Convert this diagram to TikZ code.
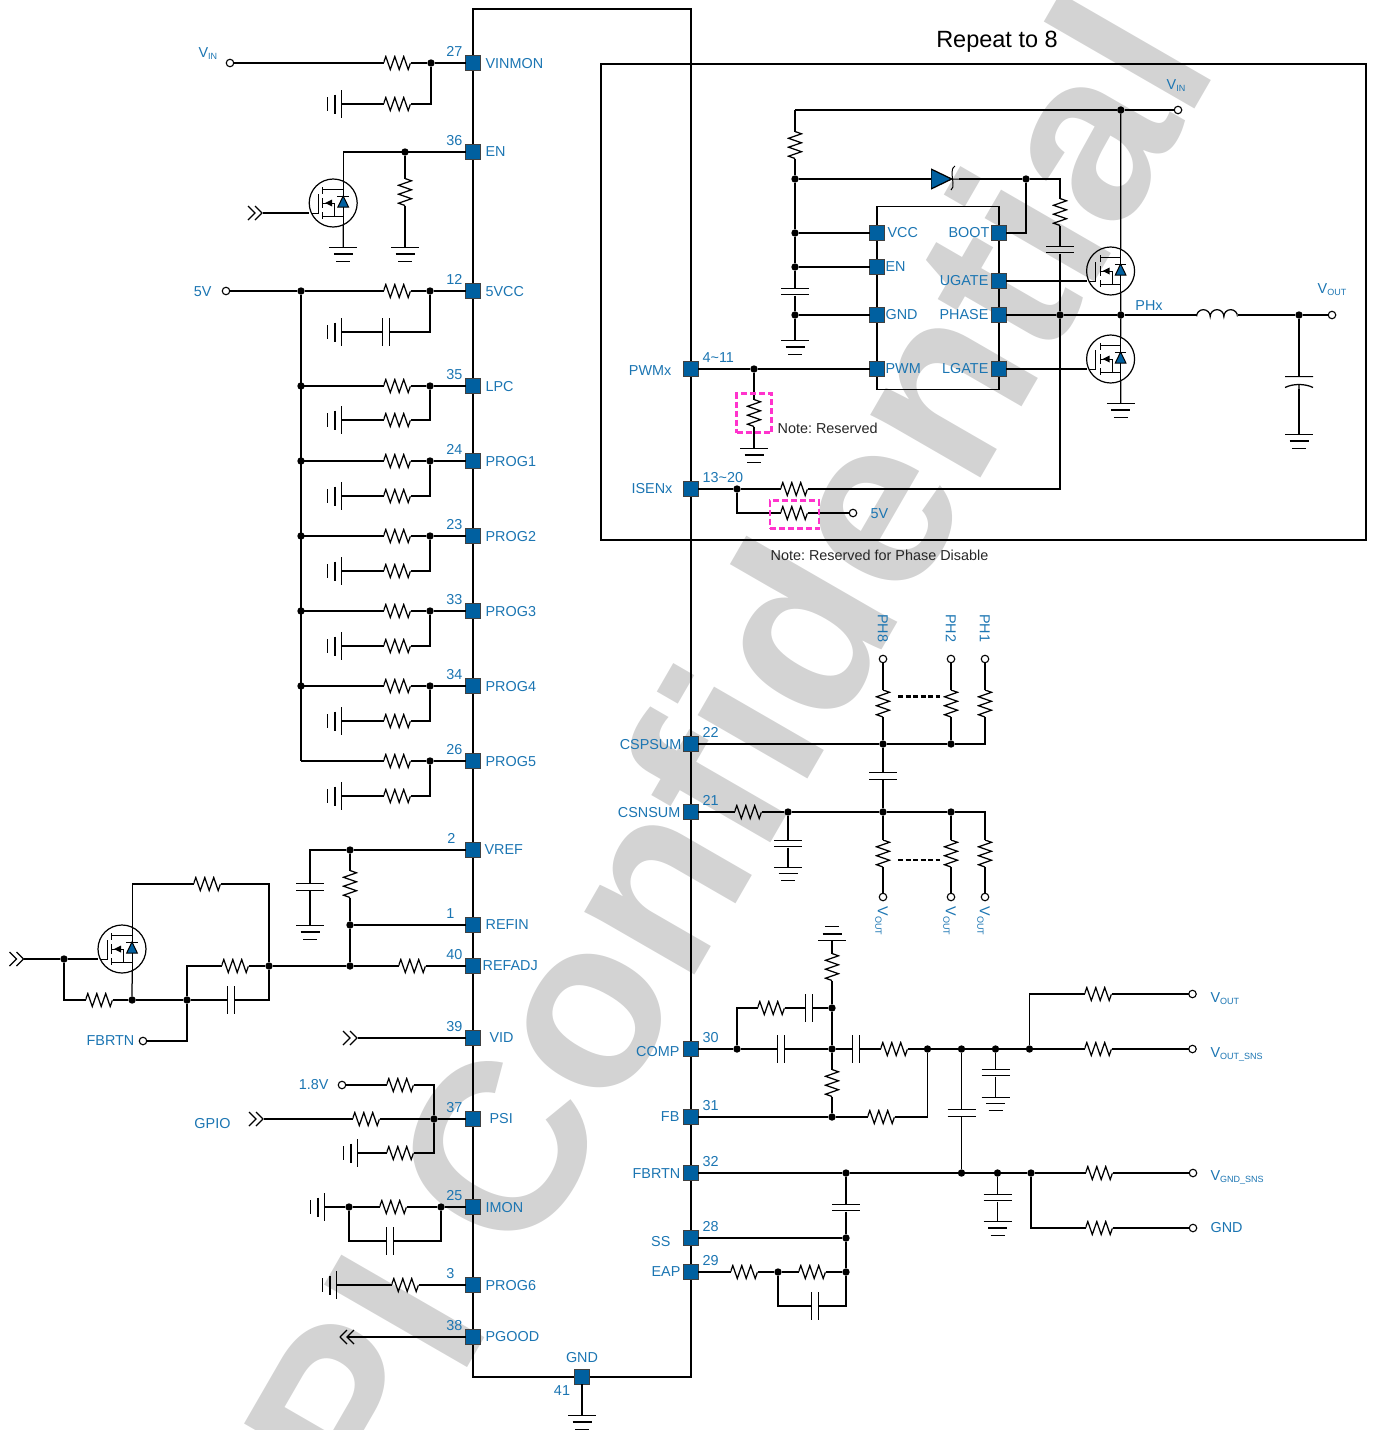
\documentclass[tikz,border=0pt]{standalone}
\usepackage{fontspec}
\setmainfont{Liberation Sans}
\definecolor{pinblue}{RGB}{27,117,178}
\definecolor{padblue}{RGB}{0,96,160}
\definecolor{markgray}{RGB}{211,211,211}
\definecolor{rsvpink}{RGB}{255,51,204}
\newcommand{\vsub}[1]{V\raisebox{-2.5pt}{\fontsize{9}{9}\selectfont #1}}
\begin{document}
\begin{tikzpicture}[x=1pt,y=-1pt,line width=1.25,
pp/.style={shift={(path picture bounding box.center)},line width=1.25},
sym/.style={inner sep=0,outer sep=0},
pad/.style={sym,rectangle,draw=black!75,fill=padblue,minimum size=14.5,line width=1.1},
jn/.style={sym,circle,fill=black,minimum size=7.4},
term/.style={sym,circle,draw,fill=white,minimum size=7.5,line width=1.1},
lbl/.style={inner sep=0,text=pinblue,font=\fontsize{14.4}{16}\selectfont,text height=10.4,text depth=0},
note/.style={inner sep=0,text=black!85,font=\fontsize{14.4}{16}\selectfont\frenchspacing,anchor=west,text height=10.4,text depth=0},
resh/.style={sym,minimum width=27,minimum height=16,path picture={\draw[pp] (-13.5,0)--(-11.2,-6.5)--(-6.7,6.5)--(-2.2,-6.5)--(2.2,6.5)--(6.7,-6.5)--(11.2,6.5)--(13.5,0);}},
resv/.style={sym,minimum width=16,minimum height=27,path picture={\draw[pp] (0,-13.5)--(6.5,-11.2)--(-6.5,-6.7)--(6.5,-2.2)--(-6.5,2.2)--(6.5,6.7)--(-6.5,11.2)--(0,13.5);}},
caph/.style={sym,minimum width=8,minimum height=29,path picture={\draw[pp] (-3.3,-14)--(-3.3,14) (3.3,-14)--(3.3,14);}},
capv/.style={sym,minimum width=29,minimum height=8,path picture={\draw[pp] (-14,-3.3)--(14,-3.3) (-14,3.3)--(14,3.3);}},
capo/.style={sym,minimum width=30,minimum height=13,path picture={\draw[pp] (-14,-6)--(14,-6) (-14,5) .. controls (-6,1) and (6,1) .. (14,5) (0,2)--(0,6.5);}},
gnd/.style={sym,anchor=north,minimum width=30,minimum height=16,path picture={\draw[pp] (-14,-7.3)--(14,-7.3) (-9.5,-1)--(9.5,-1) (-7,6.3)--(7,6.3);}},
gndu/.style={sym,anchor=south,minimum width=30,minimum height=16,path picture={\draw[pp] (-14,7.3)--(14,7.3) (-9.5,1)--(9.5,1) (-7,-6.3)--(7,-6.3);}},
gndl/.style={sym,anchor=east,minimum width=16,minimum height=30,path picture={\draw[pp] (7.3,-14)--(7.3,14) (1,-9.5)--(1,9.5) (-6.3,-7)--(-6.3,7);}},
chevr/.style={sym,minimum width=15,minimum height=16,path picture={\draw[pp] (-7,-7)--(0,0)--(-7,7) (0,-7)--(7,0)--(0,7);}},
chevl/.style={sym,minimum width=15,minimum height=16,path picture={\draw[pp] (0,-7)--(-7,0)--(0,7) (7,-7)--(0,0)--(7,7);}},
ind/.style={sym,minimum width=41,minimum height=12,path picture={\draw[pp] (-20.5,1.5) arc[start angle=180,end angle=360,radius=6.84] arc[start angle=180,end angle=360,radius=6.84] arc[start angle=180,end angle=360,radius=6.84];}},
diode/.style={sym,minimum width=28,minimum height=28,path picture={
  \draw[pp,fill=padblue] (-14,-10)--(6.7,0)--(-14,10)--cycle;
  \draw[pp,line width=1] (6.7,0)--(14,0) (10,-13) .. controls (7,-11) and (7,-8) .. (7,-5) .. controls (7,-2) and (8,1) .. (8,4) .. controls (8,7) and (8,10) .. (6,11);}},
mos/.style={sym,circle,draw,minimum size=48,line width=1.2,path picture={
  \draw[pp,line width=1] (-22,10)--(-15,10)--(-15,-9) (-10.6,-16)--(-10.6,-9) (-10.6,-5)--(-10.6,5) (-10.6,9)--(-10.6,16)
    (-10.6,-14)--(10,-14) (-10.6,13.5)--(10,13.5) (-10.6,0)--(1.7,0)--(1.7,13.5) (10,-24)--(10,24) (4.2,-7)--(15.8,-7);
  \fill[pp] (-8,0)--(-1,-3.5)--(-1,3.5)--cycle;
  \draw[pp,line width=1,fill=padblue] (10,-7)--(4.7,4)--(15.3,4)--cycle;}},
rsvbox/.style={sym,draw=rsvpink,line width=2.2,dash pattern=on 6pt off 3pt},
phasedash/.style={line width=2.4,dash pattern=on 5pt off 2.5pt}]
\useasboundingbox (0,0) rectangle (1375,1430);

\node[inner sep=0,text=markgray,font=\fontsize{240}{240}\selectfont\bfseries,rotate=60,anchor=base east] (mark) at (1220,65) {uPI Confidential};

% package outline and repeat box
\node[sym,draw,minimum width=218,minimum height=1368] (ic) at (582,693) {};
\node[sym,draw,minimum width=765,minimum height=476] (rbox) at (983.5,302) {};
\node[inner sep=0,font=\fontsize{23.5}{26}\selectfont] (rtxt) at (997,42) {Repeat to 8};
\node[sym,draw,minimum width=122,minimum height=183] (chip) at (938,298) {};

% pins
\foreach \nm/\y/\lab/\num/\lx/\ly/\nx in {vinmon/63/VINMON/27/485/63/463,enp/152/EN/36/485/151/463,vcc/291/5VCC/12/485/291/463,
lpc/386/LPC/35/485/386/463,prog1/461/PROG1/24/485/461/463,prog2/536/PROG2/23/485/536/463,prog3/611/PROG3/33/485/611/463,
prog4/686/PROG4/34/485/686/463,prog5/761/PROG5/26/485/761/463,vref/850/VREF/2/484/849/456,refin/925/REFIN/1/485/924/455,
refadj/966/REFADJ/40/482/965/463,vid/1038/VID/39/489/1037/463,psi/1119/PSI/37/489/1118/463,imon/1207/IMON/25/485/1207/463,
prog6/1285/PROG6/3/485/1285/455,pgood/1337/PGOOD/38/485/1336/463}{
  \node[pad] (\nm) at (473,\y) {};
  \node[lbl,anchor=west] (\nm-t) at (\lx,\ly) {\lab};
  \node[lbl,anchor=east] (\nm-n) at (\nx,\y-12) {\num};
}
\foreach \nm/\y/\lab/\num/\lx/\ly in {pwmx/369/PWMx/4\textasciitilde 11/672/370,isenx/489/ISENx/13\textasciitilde 20/673/488,
cspsum/744/CSPSUM/22/682/744,csnsum/812/CSNSUM/21/681/812,comp/1049/COMP/30/680/1051,fb/1117/FB/31/680/1116,
fbrtn/1173/FBRTN/32/681/1173,ss/1238/SS/28/671/1241,eap/1272/EAP/29/681/1271}{
  \node[pad] (\nm) at (691,\y) {};
  \node[lbl,anchor=east] (\nm-t) at (\lx,\ly) {\lab};
  \node[lbl,anchor=west] (\nm-n) at (702,\y-12) {\num};
}
\foreach \nm/\x/\y/\lab/\an/\lx in {uvcc/877/233/VCC/west/887,uen/877/267/EN/west/885,ugnd/877/315/GND/west/885,upwm/877/369/PWM/west/885,
uboot/999/233/BOOT/east/990,ugate/999/281/UGATE/east/989,uphase/999/315/PHASE/east/989,ulgate/999/369/LGATE/east/989}{
  \node[pad] (\nm) at (\x,\y) {};
  \node[lbl,anchor=\an] (\nm-t) at (\lx,\y-1) {\lab};
}
\node[pad] (gndp) at (582,1377) {};
\node[lbl] (gndp-t) at (582,1357) {GND};
\node[lbl] (gndp-n) at (562,1390) {41};
\node[gnd] (gndp-g) at (582,1415) {};
\draw (gndp) -- (gndp-g);

% VINMON
\node[term] (vinin) at (230,63) {};
\node[lbl,anchor=west] (vinin-t) at (198,52) {\vsub{IN}};
\node[resh] (vinr) at (397,63) {};
\node[jn] (vinj) at (431,63) {};
\node[resh] (vinrl) at (397,104) {};
\node[gndl] (ving) at (342,104) {};
\draw (vinin) -- (vinr) -- (vinj) -- (vinmon);
\draw (vinj) |- (vinrl);
\draw (vinrl) -- (ving);

% EN
\node[mos] (qen) at (333.2,203) {};
\node[jn] (enj) at (405,152) {};
\node[resv] (enr) at (405,192) {};
\node[gnd] (enrg) at (405,247) {};
\node[gnd] (qeng) at (343.3,247) {};
\node[chevr] (qenin) at (255,213) {};
\draw (qen.65) |- (enp);
\draw (enj) -- (enr) -- (enrg);
\draw (qen.-65) -- (qeng);
\draw (qenin) -- (qenin -| qen.west);

% 5V rail
\node[term] (fivev) at (226,291) {};
\node[lbl,anchor=east] (fivev-t) at (212,291) {5V};
\node[jn] (fivej) at (301,291) {};
\node[resh] (vccr) at (397,291) {};
\node[jn] (vccj) at (430,291) {};
\node[caph] (vccc) at (386,332) {};
\node[gndl] (vccg) at (342,332) {};
\draw (fivev) -- (fivej) -- (vccr) -- (vccj) -- (vcc);
\draw (vccj) |- (vccc);
\draw (vccc) -- (vccg);
\foreach \nm/\y/\yy in {lpc/386/420,prog1/461/496,prog2/536/571,prog3/611/646,prog4/686/721,prog5/761/796}{
  \coordinate (\nm-b) at (301,\y);
  \node[resh] (\nm-r) at (397,\y) {};
  \node[jn] (\nm-j) at (430,\y) {};
  \node[resh] (\nm-rl) at (397,\yy) {};
  \node[gndl] (\nm-g) at (342,\yy) {};
  \draw (\nm-b) -- (\nm-r) -- (\nm-j) -- (\nm);
  \draw (\nm-j) |- (\nm-rl);
  \draw (\nm-rl) -- (\nm-g);
}
\foreach \nm in {lpc,prog1,prog2,prog3,prog4}{
  \node[jn] (\nm-d) at (\nm-b) {};
}
\draw (fivej) -- (prog5-b);

% VREF, REFIN, REFADJ
\node[jn] (vrefj) at (350,850) {};
\node[capv] (vrefc) at (310,887) {};
\node[gnd] (vrefg) at (310,925) {};
\node[resv] (vrefr) at (350,884) {};
\node[jn] (refj) at (350,925) {};
\node[jn] (adjj) at (350,966) {};
\node[resh] (adjr) at (412,966) {};
\draw (vrefj) -- (vref);
\draw (vrefj) -| (vrefc);
\draw (vrefc) -- (vrefg);
\draw (vrefj) -- (vrefr) -- (refj) -- (adjj);
\draw (refj) -- (refin);
\draw (adjj) -- (adjr) -- (refadj);

% FBRTN offset
\node[mos] (qfb) at (122,949) {};
\node[chevr] (qfbin) at (16.5,959) {};
\node[jn] (qfbj) at (64,959) {};
\node[resh] (fbtop) at (207,884) {};
\node[jn] (fbend) at (269,966) {};
\node[resh] (fbr) at (99,1000) {};
\node[jn] (fbs) at (132.1,1000) {};
\node[jn] (fbj) at (187,1000) {};
\node[caph] (fbc) at (231,1000) {};
\node[resh] (fba) at (235,966) {};
\node[term] (fbin) at (143,1041) {};
\node[lbl,anchor=east] (fbin-t) at (135,1040) {FBRTN};
\draw (qfbin) -- (qfbj) -- (qfbj -| qfb.west);
\draw (qfb.65) |- (fbtop);
\draw (fbtop) -| (fbend);
\draw (qfbj) |- (fbr);
\draw (fbr) -- (fbs) -- (fbj) -- (fbc);
\draw (fbc) -| (fbend);
\draw (qfb.-65) -- (fbs);
\draw (fbj) |- (fba);
\draw (fba) -- (fbend) -- (adjj);
\draw (fbj) |- (fbin);

% VID, PSI
\node[chevr] (vidin) at (350,1038) {};
\draw (vidin) -- (vid);
\node[term] (psia) at (342,1085) {};
\node[lbl,anchor=east] (psia-t) at (329,1084) {1.8V};
\node[resh] (psiar) at (400,1085) {};
\node[jn] (psij) at (434,1119) {};
\node[chevr] (psib) at (256,1119) {};
\node[lbl] (psib-t) at (212.5,1123) {GPIO};
\node[resh] (psibr) at (366,1119) {};
\node[resh] (psicr) at (400,1153) {};
\node[gndl] (psig) at (358,1153) {};
\draw (psia) -- (psiar);
\draw (psiar) -| (psij);
\draw (psib) -- (psibr) -- (psij) -- (psi);
\draw (psij) |- (psicr);
\draw (psicr) -- (psig);

% IMON, PROG6, PGOOD
\node[gndl] (imong) at (325,1207) {};
\node[jn] (imonj) at (349,1207) {};
\node[resh] (imonr) at (393,1207) {};
\node[jn] (imonk) at (441,1207) {};
\node[caph] (imonc) at (390,1241) {};
\draw (imong) -- (imonj) -- (imonr) -- (imonk) -- (imon);
\draw (imonj) |- (imonc);
\draw (imonc) -| (imonk);
\node[gndl] (prog6g) at (337,1285) {};
\node[resh] (prog6r) at (405,1285) {};
\draw (prog6g) -- (prog6r) -- (prog6);
\node[chevl] (pgoodo) at (347,1337) {};
\draw (pgood) -- (pgoodo.center);

% driver stage
\node[term] (vint) at (1178,110) {};
\node[lbl] (vint-t) at (1176,84) {\vsub{IN}};
\node[jn] (vinb) at (1120.8,110) {};
\coordinate (vinc) at (795,110);
\node[resv] (vccdr) at (795,145) {};
\node[jn] (vccd1) at (795,179) {};
\node[jn] (vccd2) at (795,233) {};
\node[jn] (vccd3) at (795,267) {};
\node[capv] (vccdc) at (795,291.5) {};
\node[jn] (vccd4) at (795,315) {};
\node[gnd] (vccdg) at (795,340) {};
\draw (vinc) -- (vinb) -- (vint);
\draw (vinc) -- (vccdr) -- (vccd1) -- (vccd2) -- (vccd3) -- (vccdc) -- (vccd4) -- (vccdg);
\draw (vccd2) -- (uvcc);
\draw (vccd3) -- (uen);
\draw (vccd4) -- (ugnd);
\node[diode] (dboot) at (945,179) {};
\node[jn] (bootj) at (1026,179) {};
\coordinate (bootc) at (1060,179);
\node[resv] (snbr) at (1060,212) {};
\node[capv] (snbc) at (1060,249.5) {};
\node[jn] (phj) at (1060,315) {};
\coordinate (isc) at (1060,489);
\node[resh] (isr) at (794,489) {};
\node[jn] (isj) at (737,489) {};
\node[resh] (dsr) at (794,513) {};
\node[term] (dst) at (853,513) {};
\node[lbl,anchor=west] (dst-t) at (870,513) {5V};
\draw (vccd1) -- (dboot);
\draw (dboot) -- (bootj) -- (bootc) -- (snbr) -- (snbc) -- (phj) -- (isc) -- (isr) -- (isj) -- (isenx);
\draw (bootj) |- (uboot);
\draw (isj) |- (dsr);
\draw (dsr) -- (dst);
\node[mos] (qhi) at (1110.6,271) {};
\node[mos] (qlo) at (1110.6,359) {};
\node[jn] (phx) at (1120.8,315) {};
\node[lbl] (phx-t) at (1149,305) {PHx};
\node[gnd] (qlog) at (1120.8,403) {};
\node[ind] (lout) at (1217,315) {};
\node[jn] (outj) at (1299,315) {};
\node[term] (outt) at (1332,315) {};
\node[lbl] (outt-t) at (1332,288) {\vsub{OUT}};
\node[capo] (outc) at (1299,382.5) {};
\node[gnd] (outg) at (1299,434) {};
\draw (vinb) -- (qhi.65);
\draw (qhi.-65) -- (phx) -- (qlo.65);
\draw (qlo.-65) -- (qlog);
\draw (ugate) -- (ugate -| qhi.west);
\draw (ulgate) -- (ulgate -| qlo.west);
\draw (uphase) -- (phj) -- (phx) -- (lout) -- (outj) -- (outt);
\draw (outj) -- (outc) -- (outg);
\node[jn] (pwj) at (754,369) {};
\node[resv] (pwr) at (754,413) {};
\node[gnd] (pwg) at (754,448) {};
\draw (pwmx) -- (pwj) -- (upwm);
\draw (pwj) -- (pwr) -- (pwg);
\node[rsvbox,minimum width=35,minimum height=39] (rsva) at (754,413) {};
\node[rsvbox,minimum width=49,minimum height=28] (rsvb) at (794.5,514.5) {};
\node[note] (rsva-t) at (777,428) {Note: Reserved};
\node[note] (rsvb-t) at (770,555) {Note: Reserved for Phase Disable};

% current sense
\node[jn] (spj1) at (883,744) {};
\node[jn] (spj2) at (951,744) {};
\coordinate (spc) at (985,744);
\foreach \nm/\x/\lab in {a/883/PH8,b/951/PH2,c/985/PH1}{
  \node[resv] (spr\nm) at (\x,703.5) {};
  \node[term] (spt\nm) at (\x,659) {};
  \node[lbl,rotate=-90] (spt\nm-t) at (\x,628) {\lab};
  \node[resv] (snr\nm) at (\x,853.5) {};
  \node[term] (snt\nm) at (\x,897) {};
  \node[lbl,rotate=-90] (snt\nm-t) at (\x,921) {\vsub{OUT}};
  \draw (spr\nm) -- (spt\nm);
  \draw (snr\nm) -- (snt\nm);
}
\node[capv] (spcap) at (883,776) {};
\node[jn] (snj1) at (883,812) {};
\node[jn] (snj2) at (951,812) {};
\coordinate (snc) at (985,812);
\node[resh] (snr) at (748,812) {};
\node[jn] (snj) at (788,812) {};
\node[capv] (sncap) at (788,843.5) {};
\node[gnd] (sng) at (788,866.5) {};
\draw (cspsum) -- (spj1) -- (spj2) -- (spc) -- (sprc);
\draw (spj1) -- (spra);
\draw (spj2) -- (sprb);
\draw (spj1) -- (spcap) -- (snj1);
\draw (csnsum) -- (snr) -- (snj) -- (snj1) -- (snj2) -- (snc) -- (snrc);
\draw (snj1) -- (snra);
\draw (snj2) -- (snrb);
\draw (snj) -- (sncap) -- (sng);
\coordinate (dasha) at (898,696.5);
\coordinate (dashb) at (940,696.5);
\coordinate (dashc) at (898,860);
\coordinate (dashd) at (940,860);
\draw[phasedash] (dasha) -- (dashb);
\draw[phasedash] (dashc) -- (dashd);

% compensation
\node[jn] (cpj1) at (737,1049) {};
\node[caph] (cpc1) at (781,1049) {};
\node[jn] (cpj2) at (832,1049) {};
\node[caph] (cpc2) at (856,1049) {};
\node[resh] (cpr1) at (894,1049) {};
\node[jn] (cpj3) at (927.5,1049) {};
\node[jn] (cpj4) at (961.5,1049) {};
\node[jn] (cpj5) at (995.5,1049) {};
\node[jn] (cpj6) at (1029.5,1049) {};
\node[resh] (cpr2) at (1098,1049) {};
\node[term] (cpt2) at (1192.5,1049) {};
\node[lbl,anchor=west] (cpt2-t) at (1210,1052) {\vsub{OUT\_SNS}};
\node[resh] (cpr3) at (1098,994) {};
\node[term] (cpt3) at (1192.5,994) {};
\node[lbl,anchor=west] (cpt3-t) at (1210,997) {\vsub{OUT}};
\node[resh] (cpr4) at (771,1008) {};
\node[caph] (cpc4) at (809,1008) {};
\node[jn] (cpj7) at (832,1008) {};
\node[resv] (cpr5) at (832,967) {};
\node[gndu] (cpg) at (832,941) {};
\node[resv] (cpr6) at (832,1083) {};
\node[jn] (cpj8) at (832,1117) {};
\node[resh] (fbr2) at (881,1117) {};
\node[capv] (cpc5) at (995.5,1072.5) {};
\node[gnd] (cpg5) at (995.5,1096.5) {};
\node[capv] (cpc6) at (961.5,1113) {};
\draw (comp) -- (cpj1) -- (cpc1) -- (cpj2) -- (cpc2) -- (cpr1) -- (cpj3) -- (cpj4) -- (cpj5) -- (cpj6) -- (cpr2) -- (cpt2);
\draw (cpj6) |- (cpr3);
\draw (cpr3) -- (cpt3);
\draw (cpj1) |- (cpr4);
\draw (cpr4) -- (cpc4) -- (cpj7) -- (cpj2) -- (cpr6) -- (cpj8);
\draw (cpj7) -- (cpr5) -- (cpg);
\draw (fb) -- (cpj8) -- (fbr2);
\draw (fbr2) -| (cpj3);
\draw (cpj5) -- (cpc5) -- (cpg5);

% FBRTN, SS, EAP
\node[jn] (rtj1) at (846,1173) {};
\node[jn] (rtj2) at (961.5,1173) {};
\node[jn] (rtj3) at (997.5,1173) {};
\node[jn] (rtj4) at (1031,1173) {};
\node[resh] (rtr1) at (1099,1173) {};
\node[term] (rtt1) at (1193,1173) {};
\node[lbl,anchor=west] (rtt1-t) at (1210,1175) {\vsub{GND\_SNS}};
\node[resh] (rtr2) at (1099,1228) {};
\node[term] (rtt2) at (1193,1228) {};
\node[lbl,anchor=west] (rtt2-t) at (1210,1227) {GND};
\node[capv] (rtc1) at (846,1207.5) {};
\node[capv] (rtc3) at (997.5,1197.5) {};
\node[gnd] (rtg3) at (997.5,1221) {};
\node[jn] (ssj) at (846,1238) {};
\node[resh] (eapr1) at (744,1272) {};
\node[jn] (eapj1) at (778,1272) {};
\node[resh] (eapr2) at (812,1272) {};
\node[jn] (eapj2) at (846,1272) {};
\node[caph] (eapc) at (815,1306) {};
\draw (cpj4) -- (cpc6) -- (rtj2);
\draw (fbrtn) -- (rtj1) -- (rtj2) -- (rtj3) -- (rtj4) -- (rtr1) -- (rtt1);
\draw (rtj4) |- (rtr2);
\draw (rtr2) -- (rtt2);
\draw (rtj1) -- (rtc1) -- (ssj) -- (eapj2);
\draw (rtj3) -- (rtc3) -- (rtg3);
\draw (ss) -- (ssj);
\draw (eap) -- (eapr1) -- (eapj1) -- (eapr2) -- (eapj2);
\draw (eapj1) |- (eapc);
\draw (eapc) -| (eapj2);
\end{tikzpicture}
\end{document}
